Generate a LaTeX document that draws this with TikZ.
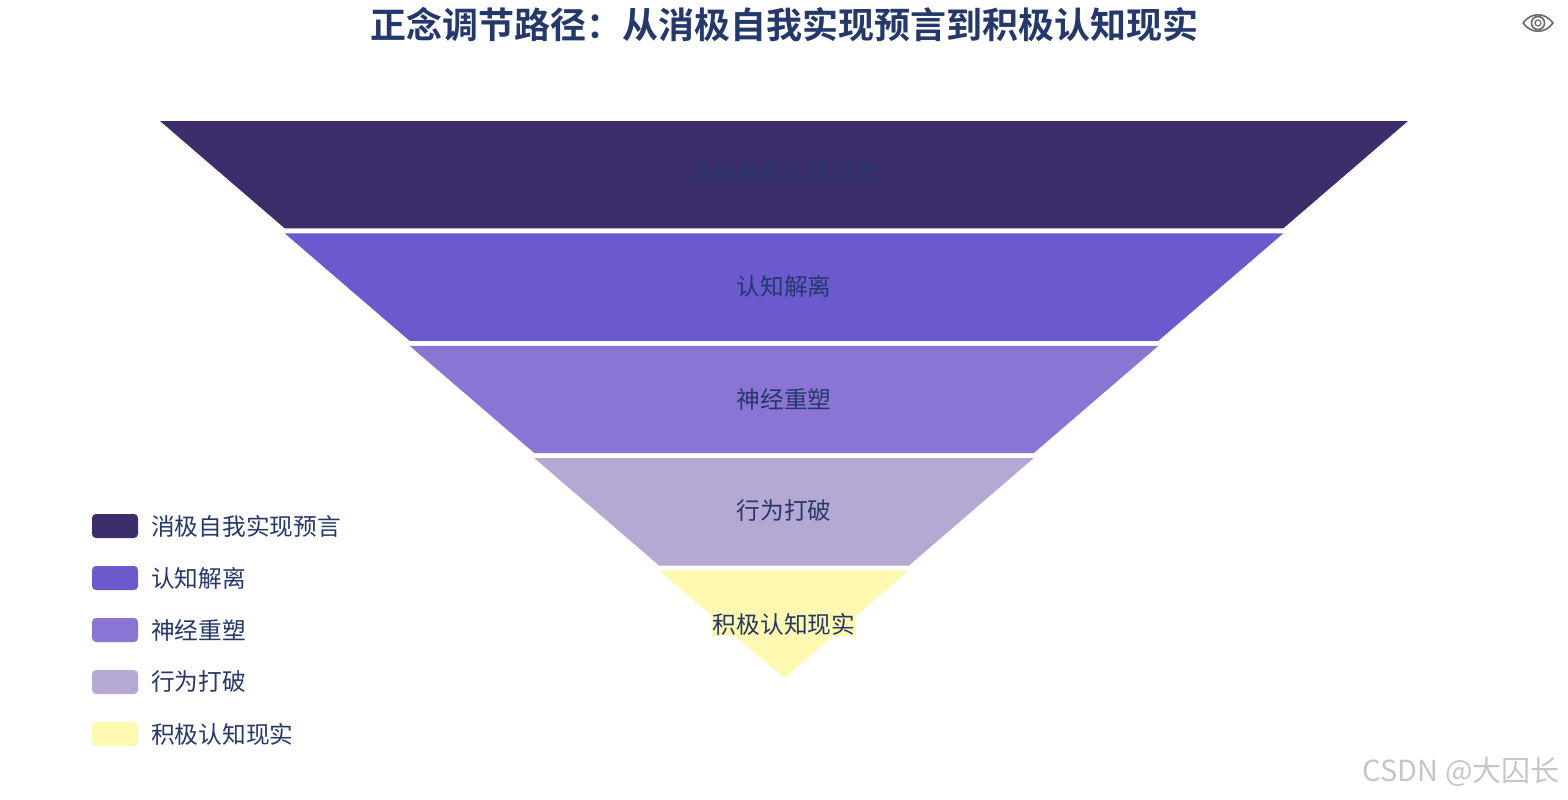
\documentclass[tikz,border=0pt]{standalone}
\usepackage{fontspec}
\setmainfont{Noto Sans CJK SC}
\newfontfamily\cjk{Noto Sans CJK SC}
\newfontfamily\cjkbold{Noto Sans CJK SC Bold}
\usepackage{tikz}
\usetikzlibrary{positioning, shapes.geometric}
\definecolor{Funnel1}{RGB}{61,46,107}
\definecolor{Funnel2}{RGB}{106,90,205}
\definecolor{Funnel3}{RGB}{138,117,212}
\definecolor{Funnel4}{RGB}{181,169,212}
\definecolor{Funnel5}{RGB}{255,248,176}
\definecolor{Navytxt}{RGB}{36,56,108}
\definecolor{Eyegray}{RGB}{105,105,105}
\begin{document}
\begin{tikzpicture}[
  x=1pt, y=-1pt,
  font=\cjk,
  ttl/.style={font=\cjkbold\fontsize{36}{40}\selectfont, text=Navytxt},
  lbl/.style={font=\cjk\fontsize{23.7}{28}\selectfont, text=Navytxt, inner sep=1pt},
  swatch/.style={rounded corners=4pt, minimum width=46pt, minimum height=24pt,
                 inner sep=0pt},
  legtxt/.style={font=\cjk\fontsize{23.7}{28}\selectfont, text=Navytxt,
                 anchor=west, inner sep=0pt},
  wmarktxt/.style={font=\fontsize{29}{33}\selectfont, text=gray!45}
]
\useasboundingbox[fill=white] (0,0) rectangle (1568,800);

\node[ttl] (title) at (784,25) {正念调节路径：从消极自我实现预言到积极认知现实};

\draw[Eyegray, line width=1.6pt] (1523,23) .. controls (1531,12) and (1545,12) .. (1553,23)
      .. controls (1545,34) and (1531,34) .. (1523,23);
\node[circle, draw=Eyegray, line width=1.6pt, minimum size=13pt, inner sep=0pt] (eye) at (1538,23) {};
\node[circle, draw=Eyegray, line width=1.2pt, minimum size=6pt, inner sep=0pt] (pupil) at (eye) {};

\fill[Funnel1] (160,121) -- (1408,121) -- (1283.2,228.4) -- (284.8,228.4) -- cycle;
\fill[Funnel2] (284.8,233.4) -- (1283.2,233.4) -- (1158.4,340.8) -- (409.6,340.8) -- cycle;
\fill[Funnel3] (409.6,345.8) -- (1158.4,345.8) -- (1033.6,453.2) -- (534.4,453.2) -- cycle;
\fill[Funnel4] (534.4,458.2) -- (1033.6,458.2) -- (908.8,565.6) -- (659.2,565.6) -- cycle;
\fill[Funnel5] (659.2,570.6) -- (908.8,570.6) -- (784,678) -- cycle;

\node[lbl] (stage1) at (784,172) {消极自我实现预言};
\node[lbl] (stage2) at (784,286) {认知解离};
\node[lbl] (stage3) at (784,399) {神经重塑};
\node[lbl] (stage4) at (784,511) {行为打破};
\node[lbl, fill=Funnel5] (stage5) at (784,624) {积极认知现实};

\node[swatch, fill=Funnel1] (key1) at (115,526) {};
\node[swatch, fill=Funnel2] (key2) at (115,578) {};
\node[swatch, fill=Funnel3] (key3) at (115,630) {};
\node[swatch, fill=Funnel4] (key4) at (115,682) {};
\node[swatch, fill=Funnel5] (key5) at (115,734) {};

\node[legtxt] (leg1) at (151,526) {消极自我实现预言};
\node[legtxt] (leg2) at (151,578) {认知解离};
\node[legtxt] (leg3) at (151,630) {神经重塑};
\node[legtxt] (leg4) at (151,682) {行为打破};
\node[legtxt] (leg5) at (151,734) {积极认知现实};

\node[wmarktxt, anchor=east] (wmark) at (1563,772) {CSDN @大囚长};
\end{tikzpicture}
\end{document}
